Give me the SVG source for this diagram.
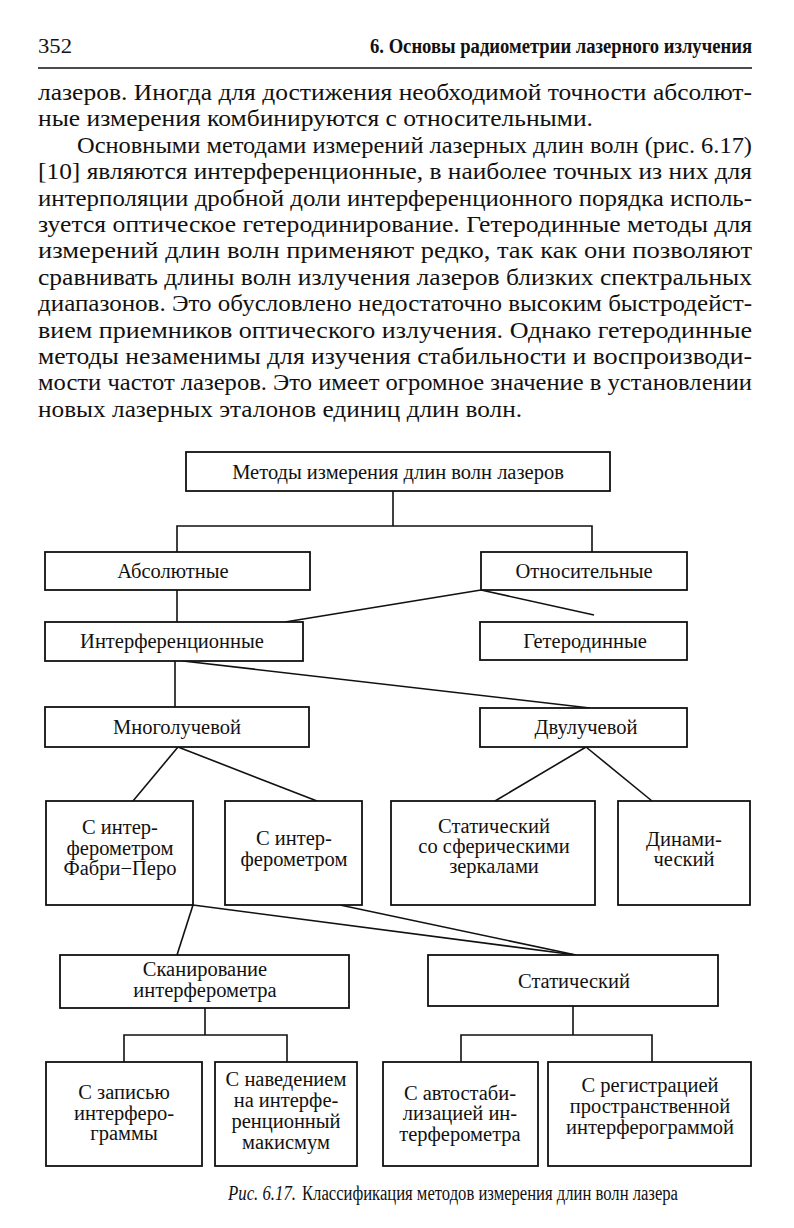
<svg xmlns="http://www.w3.org/2000/svg" width="794" height="1228" viewBox="0 0 794 1228">
<style>
.bg{fill:#fff}
.para{font-family:"Liberation Serif","Times New Roman",serif;font-size:23px;fill:#111}
.hdr{font-family:"Liberation Serif","Times New Roman",serif;font-size:20px;fill:#111}
.hdrb{font-family:"Liberation Serif","Times New Roman",serif;font-size:20px;font-weight:bold;fill:#111}
.box{fill:#fff;stroke:#111;stroke-width:1.8}
.lbl{font-family:"Liberation Serif","Times New Roman",serif;font-size:20.5px;fill:#111;text-anchor:middle}
.cap{font-family:"Liberation Serif","Times New Roman",serif;font-size:20px;fill:#111}
.capi{font-family:"Liberation Serif","Times New Roman",serif;font-size:20px;font-style:italic;fill:#111}
.ln{fill:none;stroke:#111;stroke-width:1.6}
</style>
<rect class="bg" x="0" y="0" width="794" height="1228"/>
<g id="header">
<text class="hdr" x="38" y="53" textLength="34" lengthAdjust="spacingAndGlyphs">352</text>
<text class="hdrb" x="370" y="53" textLength="382" lengthAdjust="spacingAndGlyphs">6. Основы радиометрии лазерного излучения</text>
<line x1="38" y1="68" x2="752" y2="68" stroke="#111" stroke-width="1.6"/>
</g>
<g id="body-text">
<text class="para" x="38" y="100" textLength="714" lengthAdjust="spacingAndGlyphs">лазеров. Иногда для достижения необходимой точности абсолют-</text>
<text class="para" x="38" y="126" textLength="555" lengthAdjust="spacingAndGlyphs">ные измерения комбинируются с относительными.</text>
<text class="para" x="77" y="153" textLength="675" lengthAdjust="spacingAndGlyphs">Основными методами измерений лазерных длин волн (рис. 6.17)</text>
<text class="para" x="38" y="179" textLength="714" lengthAdjust="spacingAndGlyphs">[10] являются интерференционные, в наиболее точных из них для</text>
<text class="para" x="38" y="206" textLength="714" lengthAdjust="spacingAndGlyphs">интерполяции дробной доли интерференционного порядка исполь-</text>
<text class="para" x="38" y="232" textLength="714" lengthAdjust="spacingAndGlyphs">зуется оптическое гетеродинирование. Гетеродинные методы для</text>
<text class="para" x="38" y="258" textLength="714" lengthAdjust="spacingAndGlyphs">измерений длин волн применяют редко, так как они позволяют</text>
<text class="para" x="38" y="285" textLength="714" lengthAdjust="spacingAndGlyphs">сравнивать длины волн излучения лазеров близких спектральных</text>
<text class="para" x="38" y="311" textLength="714" lengthAdjust="spacingAndGlyphs">диапазонов. Это обусловлено недостаточно высоким быстродейст-</text>
<text class="para" x="38" y="338" textLength="714" lengthAdjust="spacingAndGlyphs">вием приемников оптического излучения. Однако гетеродинные</text>
<text class="para" x="38" y="364" textLength="714" lengthAdjust="spacingAndGlyphs">методы незаменимы для изучения стабильности и воспроизводи-</text>
<text class="para" x="38" y="390" textLength="714" lengthAdjust="spacingAndGlyphs">мости частот лазеров. Это имеет огромное значение в установлении</text>
<text class="para" x="38" y="417" textLength="484" lengthAdjust="spacingAndGlyphs">новых лазерных эталонов единиц длин волн.</text>
</g>
<g id="connectors">
<polyline class="ln" points="393,491 393,526"/>
<polyline class="ln" points="177,552 177,526 592,526 592,552"/>
<line class="ln" x1="177" y1="590" x2="177" y2="622"/>
<line class="ln" x1="481" y1="590" x2="285" y2="622"/>
<line class="ln" x1="481" y1="590" x2="594" y2="615"/>
<line class="ln" x1="175" y1="661" x2="175" y2="707"/>
<line class="ln" x1="183" y1="661" x2="590" y2="708"/>
<line class="ln" x1="178" y1="747" x2="133" y2="801"/>
<line class="ln" x1="178" y1="747" x2="317" y2="801"/>
<line class="ln" x1="586" y1="747" x2="495" y2="801"/>
<line class="ln" x1="586" y1="747" x2="652" y2="801"/>
<line class="ln" x1="193" y1="905" x2="177" y2="955"/>
<line class="ln" x1="193" y1="905" x2="576" y2="955"/>
<line class="ln" x1="340" y1="905" x2="576" y2="955"/>
<polyline class="ln" points="205,1008 205,1035"/>
<polyline class="ln" points="124,1062 124,1035 287,1035 287,1062"/>
<polyline class="ln" points="573,1006 573,1035"/>
<polyline class="ln" points="461,1062 461,1035 652,1035 652,1062"/>
</g>
<g id="n-root"><rect class="box" x="186" y="452" width="424" height="39"/><text class="lbl" x="398" y="479">Методы измерения длин волн лазеров</text></g>
<g id="n-abs"><rect class="box" x="45" y="552" width="265" height="38"/><text class="lbl" x="173" y="578">Абсолютные</text></g>
<g id="n-rel"><rect class="box" x="481" y="552" width="206" height="38"/><text class="lbl" x="584" y="578">Относительные</text></g>
<g id="n-interf"><rect class="box" x="45" y="622" width="258" height="39"/><text class="lbl" x="172" y="648">Интерференционные</text></g>
<g id="n-het"><rect class="box" x="480" y="622" width="207" height="38"/><text class="lbl" x="585" y="648">Гетеродинные</text></g>
<g id="n-multi"><rect class="box" x="45" y="707" width="264" height="40"/><text class="lbl" x="177" y="734">Многолучевой</text></g>
<g id="n-two"><rect class="box" x="480" y="708" width="207" height="39"/><text class="lbl" x="586" y="734">Двулучевой</text></g>
<g id="n-fp"><rect class="box" x="46" y="801" width="147" height="104"/><text class="lbl" x="120" y="834">С интер-</text><text class="lbl" x="120" y="855">ферометром</text><text class="lbl" x="120" y="875">Фабри−Перо</text></g>
<g id="n-cint"><rect class="box" x="225" y="801" width="137" height="104"/><text class="lbl" x="294" y="845">С интер-</text><text class="lbl" x="294" y="866">ферометром</text></g>
<g id="n-stsph"><rect class="box" x="391" y="801" width="204" height="104"/><text class="lbl" x="494" y="833">Статический</text><text class="lbl" x="494" y="853">со сферическими</text><text class="lbl" x="494" y="873">зеркалами</text></g>
<g id="n-dyn"><rect class="box" x="618" y="801" width="132" height="104"/><text class="lbl" x="684" y="846">Динами-</text><text class="lbl" x="684" y="866">ческий</text></g>
<g id="n-scan"><rect class="box" x="60" y="955" width="289" height="53"/><text class="lbl" x="205" y="976">Сканирование</text><text class="lbl" x="205" y="997">интерферометра</text></g>
<g id="n-stat"><rect class="box" x="428" y="955" width="290" height="51"/><text class="lbl" x="574" y="988">Статический</text></g>
<g id="n-rec"><rect class="box" x="46" y="1062" width="156" height="104"/><text class="lbl" x="124" y="1099">С записью</text><text class="lbl" x="124" y="1120">интерферо-</text><text class="lbl" x="124" y="1140">граммы</text></g>
<g id="n-point"><rect class="box" x="215" y="1062" width="142" height="104"/><text class="lbl" x="286" y="1086">С наведением</text><text class="lbl" x="286" y="1107">на интерфе-</text><text class="lbl" x="286" y="1128">ренционный</text><text class="lbl" x="286" y="1149">макисмум</text></g>
<g id="n-auto"><rect class="box" x="383" y="1062" width="155" height="104"/><text class="lbl" x="460" y="1100">С автостаби-</text><text class="lbl" x="460" y="1120">лизацией ин-</text><text class="lbl" x="460" y="1141">терферометра</text></g>
<g id="n-reg"><rect class="box" x="548" y="1062" width="203" height="104"/><text class="lbl" x="650" y="1092">С регистрацией</text><text class="lbl" x="650" y="1113">пространственной</text><text class="lbl" x="650" y="1134">интерферограммой</text></g>
<g id="caption">
<text class="capi" x="228" y="1200" textLength="68" lengthAdjust="spacingAndGlyphs">Рис. 6.17.</text>
<text class="cap" x="302" y="1200" textLength="376" lengthAdjust="spacingAndGlyphs">Классификация методов измерения длин волн лазера</text>
</g>
</svg>
